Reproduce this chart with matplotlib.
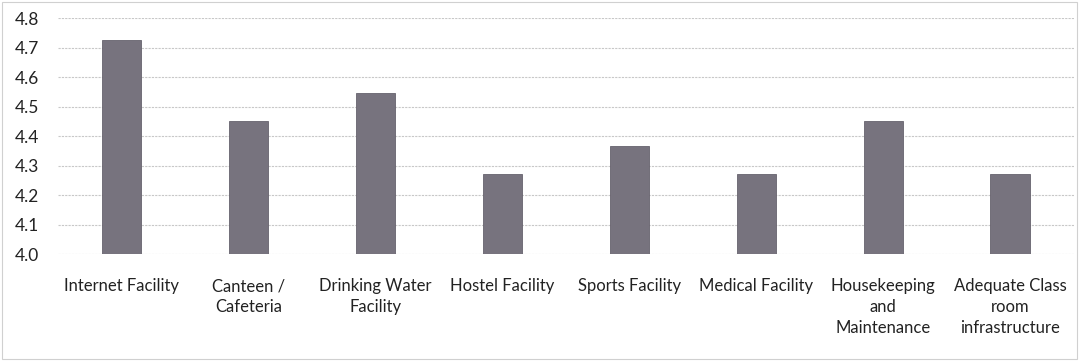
import matplotlib.pyplot as plt
from matplotlib.patches import Rectangle

categories = ["Internet Facility", "Canteen /\nCafeteria", "Drinking Water\nFacility",
              "Hostel Facility", "Sports Facility", "Medical Facility",
              "Housekeeping\nand\nMaintenance", "Adequate Class\nroom\ninfrastructure"]
scores = [4.725, 4.45, 4.545, 4.27, 4.365, 4.27, 4.45, 4.27]
yticks = [4.0, 4.1, 4.2, 4.3, 4.4, 4.5, 4.6, 4.7, 4.8]

plt.rcParams['font.family'] = ['Lato', 'DejaVu Sans']

fig = plt.figure(figsize=(10.79, 3.61), dpi=100)
ax = fig.add_axes([0.054, 0.296, 0.941, 0.654])

x = range(len(categories))
ax.bar(x, scores, width=0.31, bottom=0, color="#77737e", edgecolor="#66626d",
       linewidth=0.6, zorder=3)

ax.set_ylim(4.0, 4.8)
ax.set_xlim(-0.5, len(categories) - 0.5)
ax.set_yticks(yticks)
ax.set_yticklabels([f"{v:.1f}" for v in yticks], fontsize=12.5, color="#222222")
ax.set_xticks(list(x))
ax.set_xticklabels(categories, fontsize=12, color="#222222", linespacing=1.35)
ax.tick_params(axis="both", length=0)
ax.tick_params(axis="x", pad=17.5)
ax.tick_params(axis="y", pad=14)
ax.grid(axis="y", color="#c8c8c8", linewidth=0.8, linestyle=(0, (2, 1)), zorder=0)
for s in ax.spines.values():
    s.set_visible(False)

fig.patches.append(Rectangle((0.002, 0.005), 0.996, 0.99, transform=fig.transFigure,
                             fill=False, edgecolor="#d0d0d0", linewidth=0.8))

fig.savefig("out.png", dpi=100)
